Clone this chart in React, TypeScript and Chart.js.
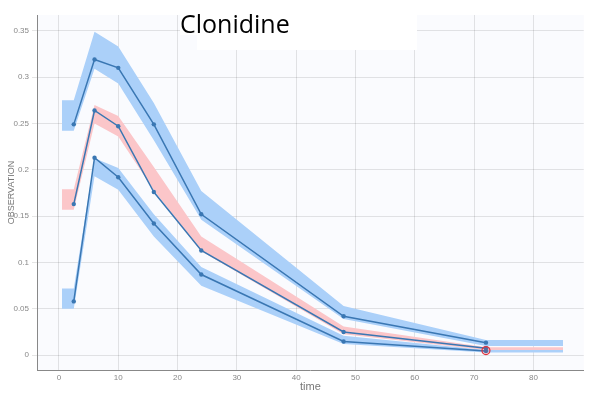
import React, { useEffect, useRef } from "react";
import { Chart, registerables } from "chart.js";

Chart.register(...registerables);

const titleText = "Clonidine";
const xTitle = "time";
const yTitle = "OBSERVATION";

const times = [2.5, 6, 10, 16, 24, 48, 72];
const p95 = [0.249, 0.319, 0.31, 0.249, 0.152, 0.042, 0.0135];
const p50 = [0.163, 0.264, 0.247, 0.176, 0.113, 0.025, 0.0075];
const p05 = [0.058, 0.213, 0.192, 0.142, 0.087, 0.0147, 0.0045];

const bandTimes = [0.5, 2.5, 6, 10, 16, 24, 48, 72, 85];
const upperHi = [0.275, 0.275, 0.349, 0.333, 0.272, 0.177, 0.053, 0.0165, 0.0165];
const upperLo = [0.242, 0.242, 0.309, 0.293, 0.232, 0.146, 0.039, 0.01, 0.01];
const medHi = [0.179, 0.179, 0.27, 0.258, 0.203, 0.128, 0.031, 0.0085, 0.0085];
const medLo = [0.157, 0.157, 0.25, 0.236, 0.178, 0.112, 0.0225, 0.0057, 0.0057];
const lowHi = [0.072, 0.072, 0.2125, 0.202, 0.152, 0.095, 0.021, 0.0057, 0.0057];
const lowLo = [0.05, 0.05, 0.193, 0.1785, 0.128, 0.075, 0.012, 0.0029, 0.0029];

const outlierX = [72];
const outlierY = [0.005];

const xTicks = [0, 10, 20, 30, 40, 50, 60, 70, 80];
const yTicks = [0, 0.05, 0.1, 0.15, 0.2, 0.25, 0.3, 0.35];

const BLUE_BAND = "#abd0f9";
const PINK_BAND = "#fbc6c9";
const LINE = "#3a77b3";

const pts = (xs: number[], ys: number[]) => xs.map((x, i) => ({ x, y: ys[i] }));

export default function App() {
  const ref = useRef<HTMLCanvasElement | null>(null);
  useEffect(() => {
    if (!ref.current) return;
    const band = (hi: number[], lo: number[], color: string, order: number) => [
      {
        data: pts(bandTimes, hi),
        borderWidth: 0,
        pointRadius: 0,
        backgroundColor: color,
        borderColor: color,
        fill: "+1",
        order,
      },
      {
        data: pts(bandTimes, lo),
        borderWidth: 0,
        pointRadius: 0,
        backgroundColor: color,
        borderColor: color,
        fill: false,
        order,
      },
    ];
    const line = (ys: number[]) => ({
      data: pts(times, ys),
      borderColor: LINE,
      backgroundColor: LINE,
      borderWidth: 1.5,
      pointRadius: 2.2,
      pointBorderWidth: 0,
      fill: false,
      order: 1,
    });
    const bgPlugin = {
      id: "bg",
      beforeDraw(chart: any) {
        const { ctx, chartArea: a } = chart;
        ctx.save();
        ctx.fillStyle = "#fafbfe";
        ctx.fillRect(a.left, a.top, a.right - a.left, a.bottom - a.top);
        ctx.restore();
      },
      afterDraw(chart: any) {
        const { ctx } = chart;
        ctx.save();
        ctx.fillStyle = "#ffffff";
        ctx.fillRect(180, 8, 237, 27);
        ctx.fillRect(197, 8, 220, 42);
        ctx.fillStyle = "#000000";
        ctx.font = "25px 'Open Sans', sans-serif";
        ctx.textBaseline = "alphabetic";
        ctx.textAlign = "left";
        ctx.fillText(titleText, 180, 33);
        ctx.restore();
      },
    };
    const chart = new Chart(ref.current, {
      type: "line",
      data: {
        datasets: [
          ...band(upperHi, upperLo, BLUE_BAND, 4),
          ...band(lowHi, lowLo, BLUE_BAND, 4),
          ...band(medHi, medLo, PINK_BAND, 3),
          line(p95),
          line(p50),
          line(p05),
          {
            data: pts(outlierX, outlierY),
            showLine: false,
            pointRadius: 4,
            pointBorderWidth: 1.2,
            pointBorderColor: "#e0303a",
            pointBackgroundColor: "rgba(224,48,58,0.15)",
            borderColor: "#e0303a",
            order: 0,
          } as any,
        ] as any,
      },
      plugins: [bgPlugin],
      options: {
        animation: false,
        responsive: false,
        maintainAspectRatio: false,
        layout: { padding: { top: 15, right: 0, left: 0, bottom: 0 } },
        plugins: {
          legend: { display: false },
          tooltip: { enabled: false },
          title: { display: false },
        },
        scales: {
          x: {
            type: "linear",
            min: -3.7,
            max: 88.5,
            afterBuildTicks: (s: any) => {
              s.ticks = xTicks.map((v) => ({ value: v }));
            },
            afterFit: (s: any) => {
              s.height = 26;
            },
            grid: { color: "rgba(0,0,0,0.1)", drawTicks: false },
            border: { color: "#888", width: 1 },
            ticks: {
              color: "#888",
              font: { size: 8, family: "'Liberation Sans', Arial, sans-serif" },
              padding: 3,
              maxRotation: 0,
            },
            title: {
              display: true,
              text: xTitle,
              color: "#777",
              font: { size: 11, family: "'Liberation Sans', Arial, sans-serif" },
              padding: { top: 0, bottom: 2 },
            },
          },
          y: {
            type: "linear",
            min: -0.016,
            max: 0.367,
            afterBuildTicks: (s: any) => {
              s.ticks = yTicks.map((v) => ({ value: v }));
            },
            afterFit: (s: any) => {
              s.width = 37;
            },
            grid: { color: "rgba(0,0,0,0.1)", tickLength: 5, drawTicks: true },
            border: { color: "#888", width: 1 },
            ticks: {
              color: "#888",
              font: { size: 8, family: "'Liberation Sans', Arial, sans-serif" },
              padding: 3,
              callback: (v: any) => String(Math.round(v * 100) / 100),
            },
            title: {
              display: true,
              text: yTitle,
              color: "#777",
              font: { size: 9, family: "'Liberation Sans', Arial, sans-serif" },
              padding: { top: 6, bottom: 0 },
            },
          },
        },
      },
    } as any);
    return () => chart.destroy();
  }, []);
  return (
    <div style={{ position: "fixed", left: 0, top: 0, width: 589, height: 396, background: "#fff" }}>
      <canvas ref={ref} width={589} height={396} style={{ width: 589, height: 396, display: "block" }} />
    </div>
  );
}
